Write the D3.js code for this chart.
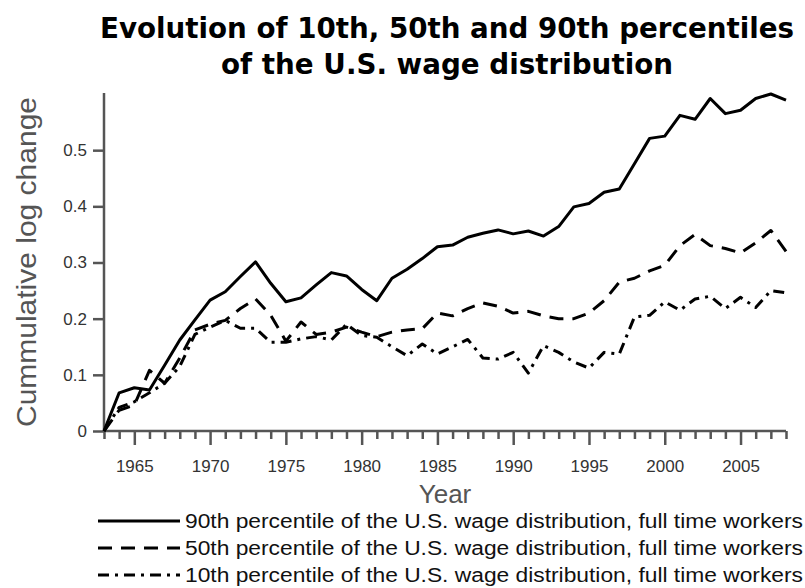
<!DOCTYPE html>
<html><head><meta charset="utf-8">
<script src="https://cdn.jsdelivr.net/npm/d3@7"></script>
<style>body{margin:0;background:#fff}svg{display:block}</style>
</head><body>
<svg id="c" width="805" height="588"></svg>
<script>
const years = d3.range(1963, 2009);
const p90 = [0,0.068,0.077,0.073,0.117,0.162,0.198,0.233,0.248,0.275,0.301,0.263,0.23,0.237,0.26,0.282,0.276,0.252,0.232,0.272,0.288,0.307,0.328,0.331,0.345,0.352,0.358,0.351,0.356,0.347,0.364,0.399,0.405,0.425,0.431,0.476,0.521,0.525,0.562,0.555,0.592,0.565,0.571,0.592,0.6,0.589];
const p50 = [0,0.037,0.046,0.108,0.085,0.13,0.18,0.19,0.197,0.218,0.235,0.206,0.16,0.194,0.172,0.176,0.185,0.176,0.168,0.176,0.18,0.182,0.21,0.205,0.218,0.228,0.222,0.21,0.213,0.205,0.2,0.2,0.21,0.232,0.265,0.272,0.285,0.295,0.33,0.35,0.33,0.325,0.317,0.335,0.357,0.32];
const p10 = [0,0.042,0.052,0.068,0.085,0.115,0.172,0.185,0.197,0.183,0.183,0.158,0.158,0.164,0.168,0.162,0.19,0.17,0.167,0.15,0.134,0.155,0.137,0.15,0.163,0.13,0.128,0.14,0.103,0.152,0.14,0.123,0.112,0.14,0.137,0.203,0.206,0.23,0.215,0.235,0.24,0.218,0.238,0.22,0.25,0.246];
const yTicks = [0,0.1,0.2,0.3,0.4,0.5];
const xTicks = [1965,1970,1975,1980,1985,1990,1995,2000,2005];
const titleLines = ["Evolution of 10th, 50th and 90th percentiles","of the U.S. wage distribution"];
const legendLabels = ["90th percentile of the U.S. wage distribution, full time workers","50th percentile of the U.S. wage distribution, full time workers","10th percentile of the U.S. wage distribution, full time workers"];
const dashes = [null, "14,9", "11,6,3,6"];
const seriesList = [p90, p50, p10];

const svg = d3.select("#c");
const x = d3.scaleLinear().domain([1963, 2008]).range([104, 786]);
const y = d3.scaleLinear().domain([0, 0.6]).range([431, 94]);
const axisCol = "#555";

// title
svg.selectAll("text.title").data(titleLines).join("text")
  .attr("x", 447).attr("y", (d,i)=>38+i*36)
  .attr("text-anchor","middle")
  .attr("font-family","'DejaVu Sans', sans-serif").attr("font-weight","bold")
  .attr("font-size",28).attr("fill","#000")
  .attr("textLength",(d,i)=> i===0?694:452).attr("lengthAdjust","spacingAndGlyphs")
  .text(d=>d);

// axes
const gy = svg.append("g").attr("transform","translate(104,0)")
  .call(d3.axisLeft(y).tickValues(yTicks).tickFormat(d=>d===0?"0":d3.format(".1f")(d)).tickSize(11).tickPadding(6));
gy.select(".domain").attr("stroke",axisCol).attr("stroke-width",2.5).attr("d","M0,431V93");
gy.selectAll(".tick line").attr("stroke",axisCol).attr("stroke-width",2.5);
gy.selectAll(".tick text").attr("font-family","'Liberation Sans', Arial, sans-serif").attr("font-size",17).attr("fill","#333");

const gx = svg.append("g").attr("transform","translate(0,431)")
  .call(d3.axisBottom(x).tickValues(years).tickFormat(d=>xTicks.includes(d)?d:"").tickSize(8).tickPadding(21));
gx.select(".domain").attr("stroke",axisCol).attr("stroke-width",2.5).attr("d","M104,0H786");
gx.selectAll(".tick line").attr("stroke",axisCol).attr("stroke-width",2.5)
  .attr("y2", d=> (d%5===0)?14:8);
gx.selectAll(".tick text").attr("font-family","'Liberation Sans', Arial, sans-serif").attr("font-size",17).attr("fill","#333");

// axis titles
svg.append("text").attr("x",445).attr("y",503).attr("text-anchor","middle")
  .attr("font-family","'Liberation Sans', Arial, sans-serif").attr("font-size",26).attr("fill","#555").text("Year");
svg.append("text").attr("transform","translate(36,262) rotate(-90)").attr("text-anchor","middle")
  .attr("font-family","'Liberation Sans', Arial, sans-serif").attr("font-size",28).attr("fill","#555")
  .attr("textLength",330).attr("lengthAdjust","spacingAndGlyphs").text("Cummulative log change");

// lines
const line = d3.line().x((d,i)=>x(years[i])).y(d=>y(d));
svg.selectAll("path.series").data(seriesList).join("path")
  .attr("class","series").attr("d",line)
  .attr("fill","none").attr("stroke","#000").attr("stroke-width",3)
  .attr("stroke-linejoin","round")
  .attr("stroke-dasharray",(d,i)=>dashes[i]);

// legend
const lg = svg.append("g");
legendLabels.forEach((lab,i)=>{
  const yy = 521 + i*27;
  lg.append("line").attr("x1",98).attr("x2",180).attr("y1",yy).attr("y2",yy)
    .attr("stroke","#000").attr("stroke-width",3).attr("stroke-dasharray",dashes[i]);
  lg.append("text").attr("x",185).attr("y",yy+7)
    .attr("font-family","'Liberation Sans', Arial, sans-serif").attr("font-size",20).attr("fill","#111")
    .attr("textLength",618).attr("lengthAdjust","spacingAndGlyphs").text(lab);
});
</script>
</body></html>
